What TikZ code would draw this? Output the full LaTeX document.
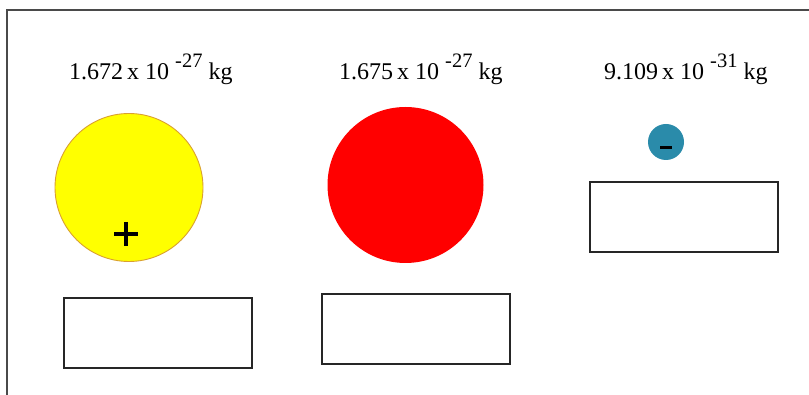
\documentclass[tikz,border=0pt]{standalone}
\usepackage{fontspec}
\setmainfont{Liberation Serif}
\definecolor{frameg}{HTML}{4A4A4A}
\definecolor{protonY}{HTML}{FFFF00}
\definecolor{protonE}{HTML}{D9A030}
\definecolor{neutronR}{HTML}{FF0000}
\definecolor{electronB}{HTML}{2A8BAA}
\newcommand{\masslabel}[2]{{\fontsize{24}{26}\selectfont #1\,x 10\hspace{6pt}\raisebox{12pt}{\fontsize{20.5}{22}\selectfont #2}\hspace{6pt}kg}}
\tikzset{
  answerbox/.style={draw=black!85, line width=1.3pt, fill=white, minimum width=188pt, minimum height=70pt, inner sep=0pt},
  masstext/.style={anchor=base west, inner sep=0pt, text=black},
}
\begin{document}
\begin{tikzpicture}[x=1pt,y=-1pt]
\useasboundingbox (0,0) rectangle (809,395);
\fill[white] (0,0) rectangle (809,395);
% outer frame
\draw[frameg, line width=2pt] (7,395) -- (7,10) -- (809,10);
% mass labels
\node[masstext] (m1) at (69,80) {\masslabel{1.672}{-27}};
\node[masstext] (m2) at (339,80) {\masslabel{1.675}{-27}};
\node[masstext] (m3) at (604,80) {\masslabel{9.109}{-31}};
% particles
\node[circle, fill=protonY, draw=protonE, line width=0.9pt, minimum size=148pt, inner sep=0pt] (p) at (129,187.5) {};
\draw[black, line width=3.5pt] (114,234) -- (138,234) (126,222) -- (126,246);
\node[circle, fill=neutronR, minimum size=156pt, inner sep=0pt] (n) at (405.5,185) {};
\node[circle, fill=electronB, minimum size=36pt, inner sep=0pt] (e) at (666,142) {};
\draw[black, line width=3pt] (660,148) -- (672,148);
% answer boxes
\node[answerbox] (b1) at (158,333) {};
\node[answerbox] (b2) at (416,329) {};
\node[answerbox] (b3) at (684,217) {};
\end{tikzpicture}
\end{document}
